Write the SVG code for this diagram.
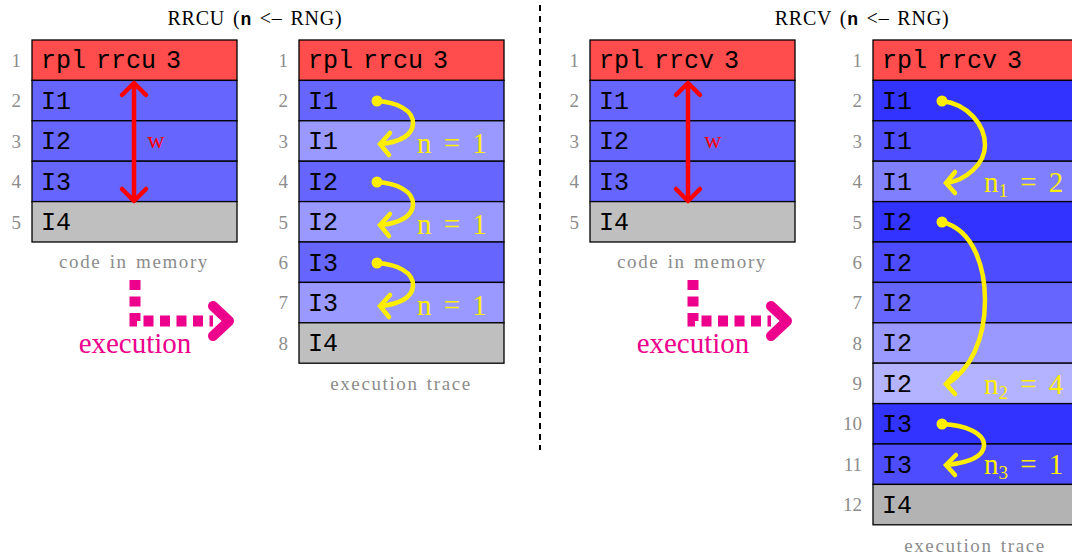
<svg xmlns="http://www.w3.org/2000/svg" width="1072" height="557" viewBox="0 0 1072 557">
<style>
.cell{stroke:#000;stroke-width:1.3}
.code{font-family:"Liberation Mono","DejaVu Sans Mono",monospace;font-size:25px;fill:#000;word-spacing:-5px}
.num{font-family:"Liberation Serif","DejaVu Serif",serif;font-size:19px;fill:#8c8c8c;text-anchor:end}
.cap{font-family:"Liberation Serif","DejaVu Serif",serif;font-size:19px;fill:#8c8c8c;text-anchor:middle;letter-spacing:1.6px;word-spacing:2px}
.title{font-family:"Liberation Serif","DejaVu Serif",serif;font-size:20px;fill:#000;text-anchor:middle;letter-spacing:0.8px;word-spacing:2px}
.tt{font-family:"Liberation Mono","DejaVu Sans Mono",monospace;font-weight:bold;font-size:18px}
.nlab{font-family:"Liberation Serif","DejaVu Serif",serif;font-size:29px;fill:#ffee00;word-spacing:5px}
.yel{fill:none;stroke:#ffee00;stroke-width:4.5;stroke-linecap:round}
.red{fill:none;stroke:#ff0000;stroke-width:4.5;stroke-linecap:round;stroke-linejoin:round}
.mag{fill:none;stroke:#ec008c}
.r{fill:#ff4d4d}.b1{fill:#6666ff}.b2{fill:#9999ff}.g{fill:#bfbfbf}
.d1{fill:#3333ff}.d2{fill:#4d4dff}.d3{fill:#6666ff}.d4{fill:#8080ff}.d5{fill:#9999ff}.d6{fill:#b3b3ff}.g2{fill:#b3b3b3}
</style>

<text class="title" x="255" y="25">RRCU (<tspan class="tt">n</tspan> &lt;– RNG)</text>
<text class="title" x="862" y="25">RRCV (<tspan class="tt">n</tspan> &lt;– RNG)</text>

<line x1="540" y1="5" x2="540" y2="450" stroke="#000" stroke-width="2" stroke-dasharray="6 5"/>

<g id="mem1">
<rect class="cell r" x="32" y="40" width="205" height="40.4"/>
<rect class="cell b1" x="32" y="80.4" width="205" height="40.4"/>
<rect class="cell b1" x="32" y="120.8" width="205" height="40.4"/>
<rect class="cell b1" x="32" y="161.2" width="205" height="40.4"/>
<rect class="cell g" x="32" y="201.6" width="205" height="40.4"/>
<text class="code" x="41" y="68">rpl rrcu 3</text>
<text class="code" x="41" y="109">I1</text>
<text class="code" x="41" y="149">I2</text>
<text class="code" x="41" y="190">I3</text>
<text class="code" x="41" y="230">I4</text>
<text class="num" x="21" y="67">1</text>
<text class="num" x="21" y="107">2</text>
<text class="num" x="21" y="148">3</text>
<text class="num" x="21" y="188">4</text>
<text class="num" x="21" y="229">5</text>
<text class="cap" x="134" y="268">code in memory</text>
</g>

<g id="trace1">
<rect class="cell r" x="299" y="40" width="205" height="40.4"/>
<rect class="cell b1" x="299" y="80.4" width="205" height="40.4"/>
<rect class="cell b2" x="299" y="120.8" width="205" height="40.4"/>
<rect class="cell b1" x="299" y="161.2" width="205" height="40.4"/>
<rect class="cell b2" x="299" y="201.6" width="205" height="40.4"/>
<rect class="cell b1" x="299" y="242" width="205" height="40.4"/>
<rect class="cell b2" x="299" y="282.4" width="205" height="40.4"/>
<rect class="cell g" x="299" y="322.8" width="205" height="40.4"/>
<text class="code" x="308" y="68">rpl rrcu 3</text>
<text class="code" x="308" y="109">I1</text>
<text class="code" x="308" y="149">I1</text>
<text class="code" x="308" y="190">I2</text>
<text class="code" x="308" y="230">I2</text>
<text class="code" x="308" y="271">I3</text>
<text class="code" x="308" y="311">I3</text>
<text class="code" x="308" y="351">I4</text>
<text class="num" x="288" y="67">1</text>
<text class="num" x="288" y="107">2</text>
<text class="num" x="288" y="148">3</text>
<text class="num" x="288" y="188">4</text>
<text class="num" x="288" y="229">5</text>
<text class="num" x="288" y="269">6</text>
<text class="num" x="288" y="309">7</text>
<text class="num" x="288" y="350">8</text>
<text class="cap" x="401" y="390">execution trace</text>
</g>

<g id="mem2">
<rect class="cell r" x="590" y="40" width="205" height="40.4"/>
<rect class="cell b1" x="590" y="80.4" width="205" height="40.4"/>
<rect class="cell b1" x="590" y="120.8" width="205" height="40.4"/>
<rect class="cell b1" x="590" y="161.2" width="205" height="40.4"/>
<rect class="cell g" x="590" y="201.6" width="205" height="40.4"/>
<text class="code" x="599" y="68">rpl rrcv 3</text>
<text class="code" x="599" y="109">I1</text>
<text class="code" x="599" y="149">I2</text>
<text class="code" x="599" y="190">I3</text>
<text class="code" x="599" y="230">I4</text>
<text class="num" x="579" y="67">1</text>
<text class="num" x="579" y="107">2</text>
<text class="num" x="579" y="148">3</text>
<text class="num" x="579" y="188">4</text>
<text class="num" x="579" y="229">5</text>
<text class="cap" x="692" y="268">code in memory</text>
</g>

<g id="trace2">
<rect class="cell r" x="873" y="40" width="205" height="40.4"/>
<rect class="cell d1" x="873" y="80.4" width="205" height="40.4"/>
<rect class="cell d2" x="873" y="120.8" width="205" height="40.4"/>
<rect class="cell d4" x="873" y="161.2" width="205" height="40.4"/>
<rect class="cell d1" x="873" y="201.6" width="205" height="40.4"/>
<rect class="cell d2" x="873" y="242" width="205" height="40.4"/>
<rect class="cell d3" x="873" y="282.4" width="205" height="40.4"/>
<rect class="cell d5" x="873" y="322.8" width="205" height="40.4"/>
<rect class="cell d6" x="873" y="363.2" width="205" height="40.4"/>
<rect class="cell d1" x="873" y="403.6" width="205" height="40.4"/>
<rect class="cell d2" x="873" y="444" width="205" height="40.4"/>
<rect class="cell g2" x="873" y="484.4" width="205" height="40.4"/>
<text class="code" x="882" y="68">rpl rrcv 3</text>
<text class="code" x="882" y="109">I1</text>
<text class="code" x="882" y="149">I1</text>
<text class="code" x="882" y="190">I1</text>
<text class="code" x="882" y="230">I2</text>
<text class="code" x="882" y="271">I2</text>
<text class="code" x="882" y="311">I2</text>
<text class="code" x="882" y="351">I2</text>
<text class="code" x="882" y="392">I2</text>
<text class="code" x="882" y="432">I3</text>
<text class="code" x="882" y="473">I3</text>
<text class="code" x="882" y="513">I4</text>
<text class="num" x="862" y="67">1</text>
<text class="num" x="862" y="107">2</text>
<text class="num" x="862" y="148">3</text>
<text class="num" x="862" y="188">4</text>
<text class="num" x="862" y="229">5</text>
<text class="num" x="862" y="269">6</text>
<text class="num" x="862" y="309">7</text>
<text class="num" x="862" y="350">8</text>
<text class="num" x="862" y="390">9</text>
<text class="num" x="862" y="430">10</text>
<text class="num" x="862" y="471">11</text>
<text class="num" x="862" y="511">12</text>
<text class="cap" x="975" y="552">execution trace</text>
</g>

<g id="connectors">
<path class="red" d="M134,84 V200 M122,95 L134,83 L146,95 M122,189 L134,201 L146,189"/>
<text x="156" y="148" font-family="Liberation Serif, serif" font-size="24" fill="#ff0000" text-anchor="middle">w</text>
<path class="red" d="M688,84 V200 M676,95 L688,83 L700,95 M676,189 L688,201 L700,189"/>
<text x="713" y="148" font-family="Liberation Serif, serif" font-size="24" fill="#ff0000" text-anchor="middle">w</text>

<path class="mag" d="M135,280 V321 H213" stroke-width="11" stroke-dasharray="10 6.5"/>
<path class="mag" d="M213,306 L229,321 L213,336" stroke-width="10" stroke-linecap="round" stroke-linejoin="round"/>
<text x="135" y="353" font-family="Liberation Serif, serif" font-size="29" fill="#ec008c" text-anchor="middle">execution</text>
<path class="mag" d="M693,280 V321 H771" stroke-width="11" stroke-dasharray="10 6.5"/>
<path class="mag" d="M771,306 L787,321 L771,336" stroke-width="10" stroke-linecap="round" stroke-linejoin="round"/>
<text x="693" y="353" font-family="Liberation Serif, serif" font-size="29" fill="#ec008c" text-anchor="middle">execution</text>

<g fill="#ffee00">
<circle cx="377" cy="101" r="5.5"/>
<circle cx="377" cy="182" r="5.5"/>
<circle cx="377" cy="263" r="5.5"/>
<circle cx="942" cy="101" r="5.5"/>
<circle cx="942" cy="222" r="5.5"/>
<circle cx="942" cy="424" r="5.5"/>
</g>
<path class="yel" d="M377,101 C396,102 414,110 413,124 C412,137 398,142 381,144 M390,133 L380,144 L389,155"/>
<path class="yel" d="M377,182 C396,183 414,191 413,205 C412,218 398,223 381,225 M390,214 L380,225 L389,236"/>
<path class="yel" d="M377,263 C396,264 414,272 413,286 C412,299 398,304 381,306 M390,295 L380,306 L389,317"/>
<text class="nlab" x="417" y="153">n = 1</text>
<text class="nlab" x="417" y="234">n = 1</text>
<text class="nlab" x="417" y="315">n = 1</text>

<path class="yel" d="M942,101 C968,104 985,125 985,145 C985,165 965,180 947,183 M955,172 L946,183 L955,193"/>
<path class="yel" d="M942,222 C975,230 985,270 985,300 C985,340 970,370 947,384 M956,373 L946,384 L955,394"/>
<path class="yel" d="M942,424 C965,425 985,433 984,446 C983,458 965,463 947,465 M956,455 L946,465 L955,475"/>
<text class="nlab" x="984" y="192">n<tspan font-size="19" dy="5">1</tspan><tspan dy="-5"> = 2</tspan></text>
<text class="nlab" x="984" y="394">n<tspan font-size="19" dy="5">2</tspan><tspan dy="-5"> = 4</tspan></text>
<text class="nlab" x="984" y="474">n<tspan font-size="19" dy="5">3</tspan><tspan dy="-5"> = 1</tspan></text>
</g>
</svg>
